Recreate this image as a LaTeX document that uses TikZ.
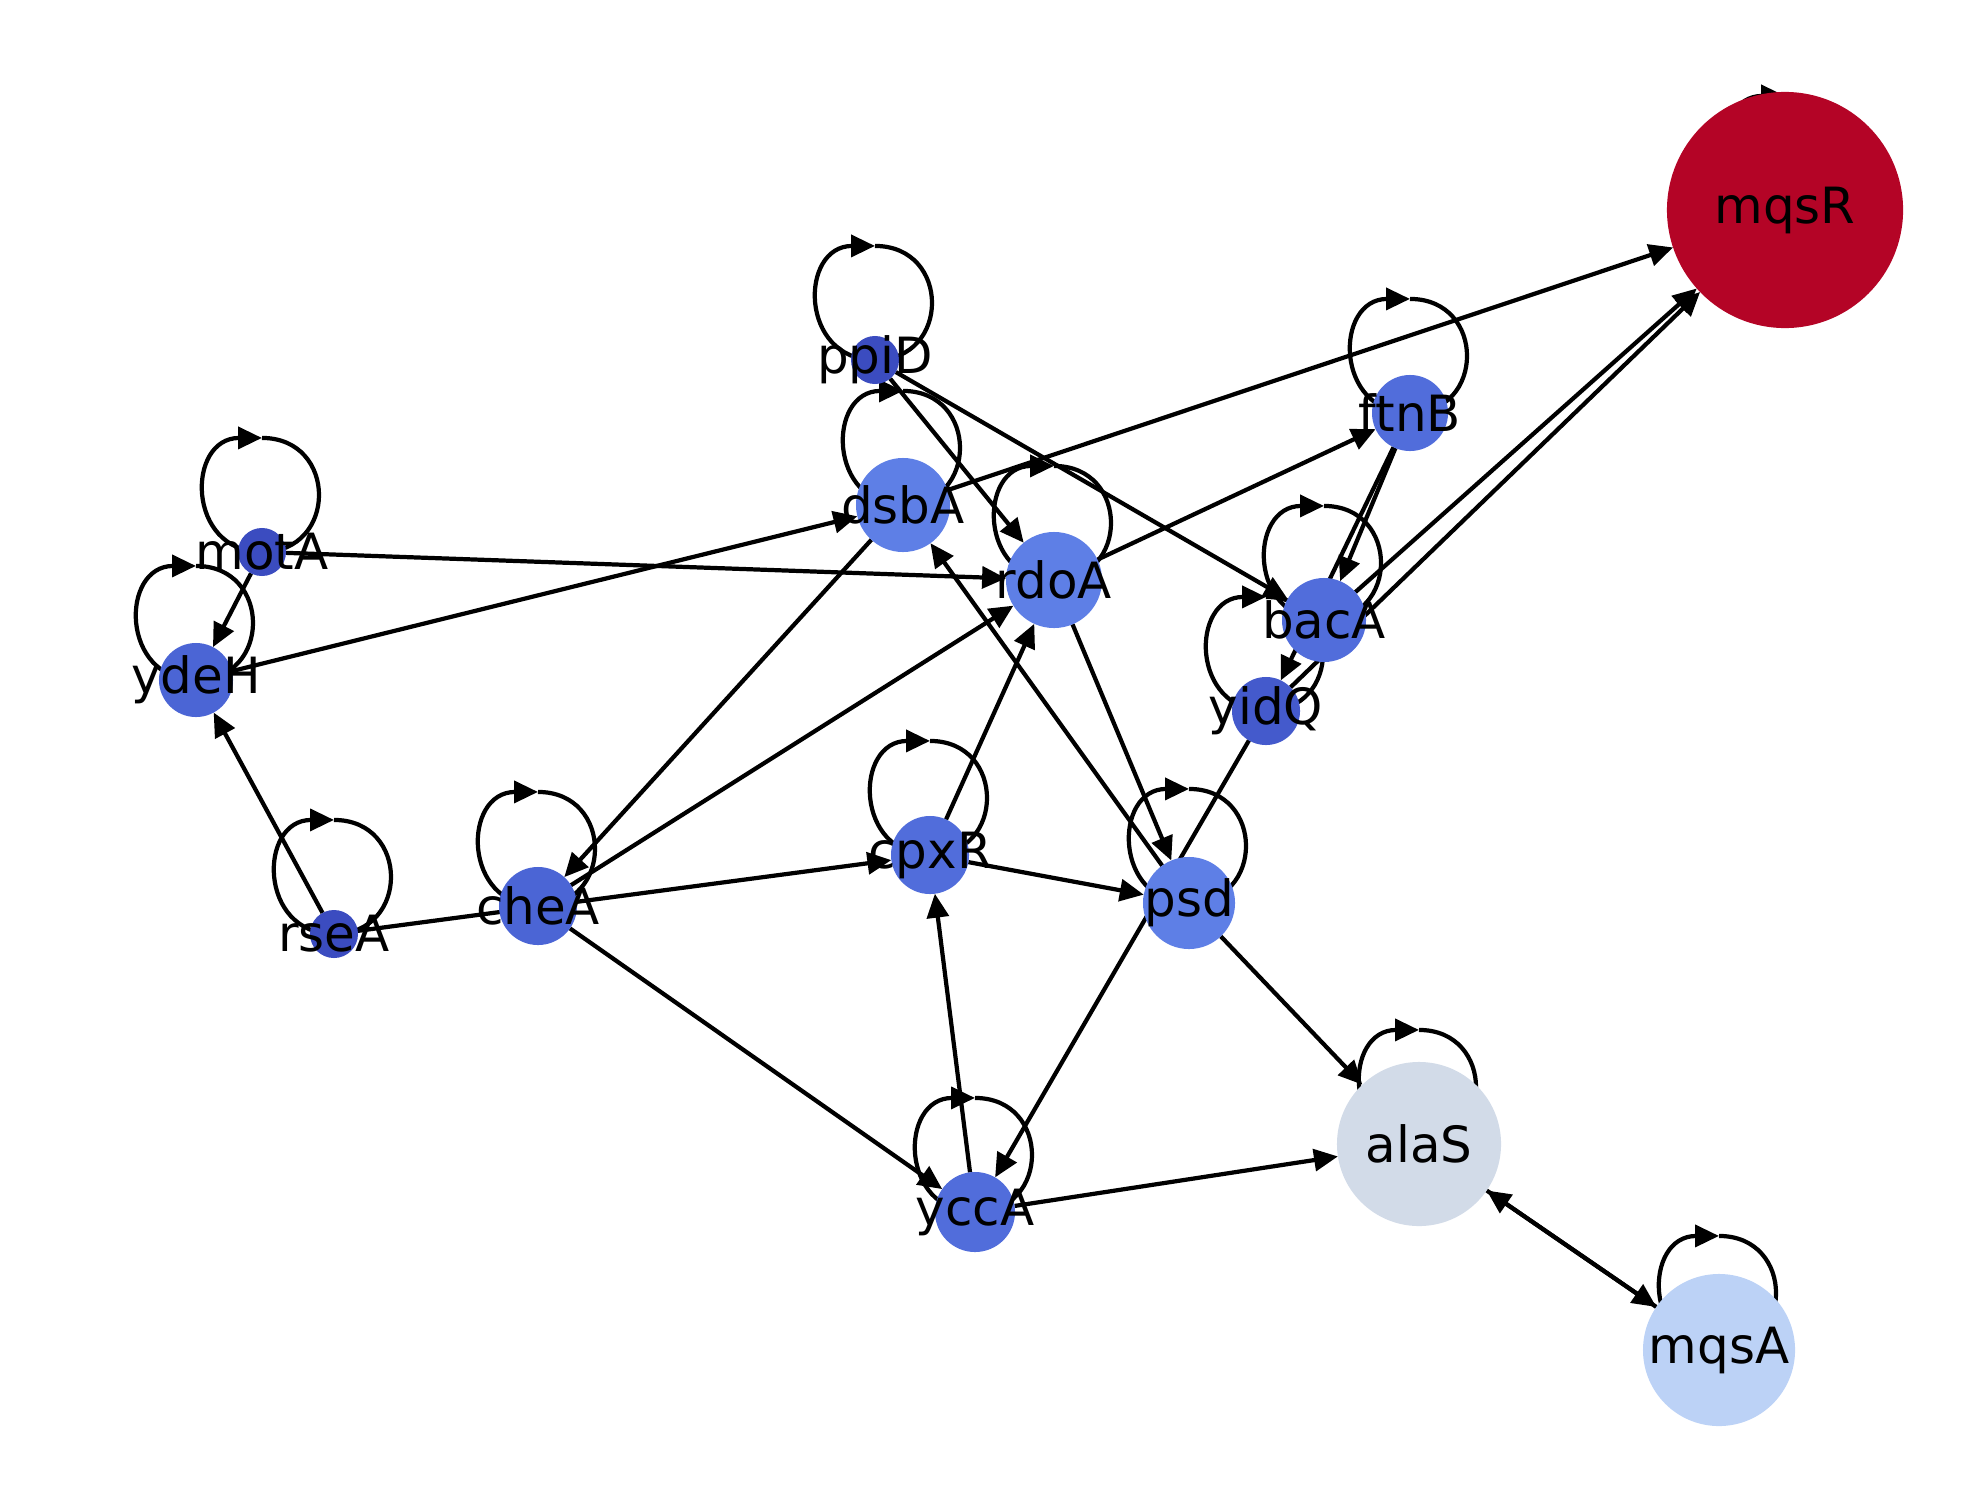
\documentclass[tikz,border=0pt]{standalone}
\usepackage{fontspec}
\setmainfont{DejaVu Sans}
\usetikzlibrary{arrows.meta,backgrounds}
\definecolor{genedark}{HTML}{3B4CC0}
\definecolor{geneyidq}{HTML}{445ACC}
\definecolor{genemid}{HTML}{4B65D5}
\definecolor{genebac}{HTML}{516DDB}
\definecolor{genelight}{HTML}{5E7FE6}
\definecolor{genemqsa}{HTML}{BCD2F6}
\definecolor{genealas}{HTML}{D2DBE8}
\definecolor{genemqsr}{HTML}{B40426}
\begin{document}
\begin{tikzpicture}[x=0.01cm,y=-0.01cm,font=\fontsize{14.2}{17}\selectfont,
    gene/.style={circle,inner sep=0pt,outer sep=0pt,draw=none},
    arr/.style={line width=1.2pt,-{Triangle[length=6.8pt,width=6.2pt]}},
    selfloop/.style={to path={([yshift=1.14cm]\tikztostart.center) .. controls +(76,0) and +(76,0) .. (\tikztostart.center) .. controls +(-76,0) and +(-76,0) .. ([yshift=1.14cm]\tikztostart.center)}}]

      \useasboundingbox (0,0) rectangle (1980,1500);

      \node[gene,fill=genemqsr,minimum size=2.36cm,label=center:mqsR] (mqsR) at (1785,210) {};
      \node[gene,fill=genedark,minimum size=0.48cm,label=center:ppiD] (ppiD) at (875,360) {};
      \node[gene,fill=genelight,minimum size=0.94cm,label=center:dsbA] (dsbA) at (903,505) {};
      \node[gene,fill=genelight,minimum size=0.96cm,label=center:rdoA] (rdoA) at (1054,580) {};
      \node[gene,fill=genebac,minimum size=0.76cm,label=center:ftnB] (ftnB) at (1410,413) {};
      \node[gene,fill=genebac,minimum size=0.84cm,label=center:bacA] (bacA) at (1324,620) {};
      \node[gene,fill=geneyidq,minimum size=0.68cm,label=center:yidQ] (yidQ) at (1266,711) {};
      \node[gene,fill=genedark,minimum size=0.48cm,label=center:motA] (motA) at (262,552) {};
      \node[gene,fill=genemid,minimum size=0.74cm,label=center:ydeH] (ydeH) at (196,680) {};
      \node[gene,fill=genedark,minimum size=0.48cm,label=center:rseA] (rseA) at (334,934) {};
      \node[gene,fill=genemid,minimum size=0.78cm,label=center:cheA] (cheA) at (538,906) {};
      \node[gene,fill=genebac,minimum size=0.78cm,label=center:cpxR] (cpxR) at (930,855) {};
      \node[gene,fill=genelight,minimum size=0.92cm,label=center:psd] (psd) at (1189,903) {};
      \node[gene,fill=genebac,minimum size=0.80cm,label=center:yccA] (yccA) at (975,1212) {};
      \node[gene,fill=genealas,minimum size=1.64cm,label=center:alaS] (alaS) at (1419,1144) {};
      \node[gene,fill=genemqsa,minimum size=1.52cm,label=center:mqsA] (mqsA) at (1719,1350) {};

      \begin{pgfonlayer}{background}
      \draw[arr] (dsbA) -- (mqsR);
      \draw[arr] (bacA) -- (mqsR);
      \draw[arr] (yidQ) -- (mqsR);
      \draw[arr] (ftnB) -- (bacA);
      \draw[arr] (ftnB) -- (yidQ);
      \draw[arr] (rdoA) -- (ftnB);
      \draw[arr] (ppiD) -- (rdoA);
      \draw[arr] (ppiD) -- (bacA);
      \draw[arr] (motA) -- (rdoA);
      \draw[arr] (motA) -- (ydeH);
      \draw[arr] (ydeH) -- (dsbA);
      \draw[arr] (rseA) -- (ydeH);
      \draw[arr] (rseA) -- (cpxR);
      \draw[arr] (cheA) -- (rdoA);
      \draw[arr] (dsbA) -- (cheA);
      \draw[arr] (cheA) -- (yccA);
      \draw[arr] (cpxR) -- (rdoA);
      \draw[arr] (cpxR) -- (psd);
      \draw[arr] (rdoA) -- (psd);
      \draw[arr] (psd) -- (dsbA);
      \draw[arr] (yccA) -- (cpxR);
      \draw[arr] (yidQ) -- (yccA);
      \draw[arr] (psd) -- (alaS);
      \draw[arr] (yccA) -- (alaS);
      \draw[arr] (alaS) -- (mqsA);
      \draw[arr] (mqsA) -- (alaS);

      \draw[arr,selfloop] (mqsR) to (mqsR);
      \draw[arr,selfloop] (ppiD) to (ppiD);
      \draw[arr,selfloop] (dsbA) to (dsbA);
      \draw[arr,selfloop] (rdoA) to (rdoA);
      \draw[arr,selfloop] (ftnB) to (ftnB);
      \draw[arr,selfloop] (bacA) to (bacA);
      \draw[arr,selfloop] (yidQ) to (yidQ);
      \draw[arr,selfloop] (motA) to (motA);
      \draw[arr,selfloop] (ydeH) to (ydeH);
      \draw[arr,selfloop] (rseA) to (rseA);
      \draw[arr,selfloop] (cheA) to (cheA);
      \draw[arr,selfloop] (cpxR) to (cpxR);
      \draw[arr,selfloop] (psd) to (psd);
      \draw[arr,selfloop] (yccA) to (yccA);
      \draw[arr,selfloop] (alaS) to (alaS);
      \draw[arr,selfloop] (mqsA) to (mqsA);
      \end{pgfonlayer}

    \end{tikzpicture}
\end{document}
